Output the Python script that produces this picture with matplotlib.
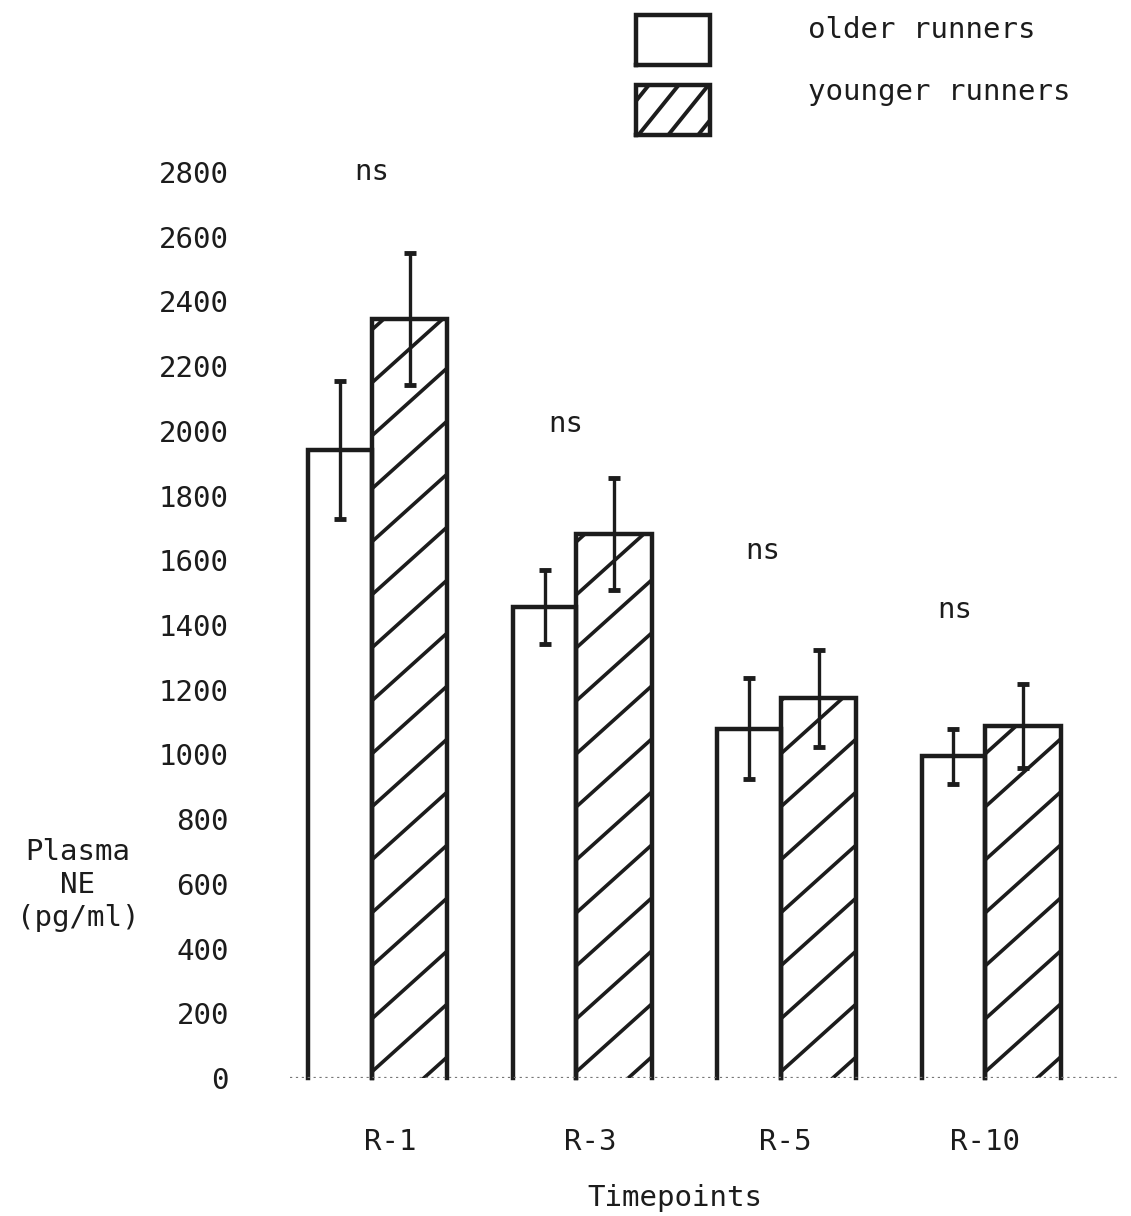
import matplotlib.pyplot as plt
from matplotlib.patches import Rectangle
import numpy as np

plt.rcParams['font.family'] = ['DejaVu Sans Mono', 'DejaVu Sans']

timepoints = ["R-1", "R-3", "R-5", "R-10"]
older = [1940, 1455, 1080, 995]
older_sem = [213, 114, 155, 85]
younger = [2345, 1681, 1174, 1088]
younger_sem = [204, 172, 150, 130]
ns_y = [2800, 2020, 1630, 1445]
ns_dx = [0.0, -0.05, -0.09, -0.15]
lab_dx = [0.09, 0.07, 0.02, 0.0]

ink = "#1c1c1c"
w_old = 0.31
w_young = 0.37
fs = 21
x = np.arange(len(timepoints))

fig = plt.figure(figsize=(11.31, 12.16), dpi=100)
ax = fig.add_axes([0.2564, 0.1135, 0.734, 0.745])
ax.set_xlim(-0.40, 3.66)
ax.set_ylim(0, 2800)


def hatch(ax, x0, x1, y0, y1, spacing_px=53, slope=0.9, lw=2.6):
    # diagonal lines in pixel space, clipped to the rectangle
    rect = Rectangle((x0, y0), x1 - x0, y1 - y0, transform=ax.transData)
    (px0, py0), (px1, py1) = ax.transData.transform([(x0, y0), (x1, y1)])
    inv = ax.transData.inverted()
    width = px1 - px0
    c = py0 - slope * width + spacing_px * 0.4
    while c < py1:
        pts = inv.transform([(px0, c), (px1, c + slope * width)])
        ln, = ax.plot(pts[:, 0], pts[:, 1], color=ink, lw=lw, solid_capstyle="butt")
        ln.set_clip_path(rect)
        c += spacing_px


def outline(ax, x0, x1, y0, y1, lw, closed=False):
    xs = [x0, x0, x1, x1]
    ys = [y0, y1, y1, y0]
    if closed:
        xs.append(x0)
        ys.append(y0)
    ax.plot(xs, ys, color=ink, lw=lw, solid_joinstyle="miter", clip_on=False)


for i in range(len(x)):
    # older runners: open bar
    outline(ax, x[i] - w_old, x[i], 0, older[i], 3.2)
    ax.errorbar(x[i] - w_old / 2, older[i], yerr=older_sem[i], color=ink,
                lw=2.4, capsize=4.5, capthick=3.5)
    # younger runners: hatched bar
    hatch(ax, x[i], x[i] + w_young, 0, younger[i])
    outline(ax, x[i], x[i] + w_young, 0, younger[i], 3.2)
    ax.errorbar(x[i] + w_young / 2, younger[i], yerr=younger_sem[i], color=ink,
                lw=2.4, capsize=4.5, capthick=3.5)
    ax.text(x[i] + ns_dx[i], ns_y[i], "ns", ha="center", va="center",
            fontsize=fs, color=ink, clip_on=False)

ax.axhline(0, color="#777777", lw=1.6, ls=":")

for s in ax.spines.values():
    s.set_visible(False)
ax.set_yticks(np.arange(0, 2801, 200))
ax.tick_params(axis="y", length=0, pad=44, labelsize=fs, labelcolor=ink)
ax.set_xticks(x + np.array(lab_dx))
ax.set_xticklabels(timepoints)
ax.tick_params(axis="x", length=0, pad=36, labelsize=fs, labelcolor=ink)

fig.text(78 / 1131, 1 - 885 / 1216, "Plasma\nNE\n(pg/ml)", ha="center",
         va="center", fontsize=fs, color=ink, linespacing=1.25)
fig.text(675 / 1131, 1 - 1198 / 1216, "Timepoints", ha="center", va="center",
         fontsize=fs, color=ink)

# legend drawn by hand, as in the original
lax = fig.add_axes([636 / 1131, 1 - 135 / 1216, 74 / 1131, 120 / 1216])
lax.set_xlim(0, 74)
lax.set_ylim(0, 120)
lax.axis("off")
outline(lax, 0, 74, 70, 120, 3.2, closed=True)
hatch(lax, 0, 74, 0, 50, spacing_px=37, slope=1.24, lw=2.8)
outline(lax, 0, 74, 0, 50, 3.2, closed=True)

fig.text(808 / 1131, 1 - 30 / 1216, "older runners", ha="left", va="center",
         fontsize=fs, color=ink)
fig.text(808 / 1131, 1 - 92 / 1216, "younger runners", ha="left", va="center",
         fontsize=fs, color=ink)

fig.savefig("out.png", dpi=100)
